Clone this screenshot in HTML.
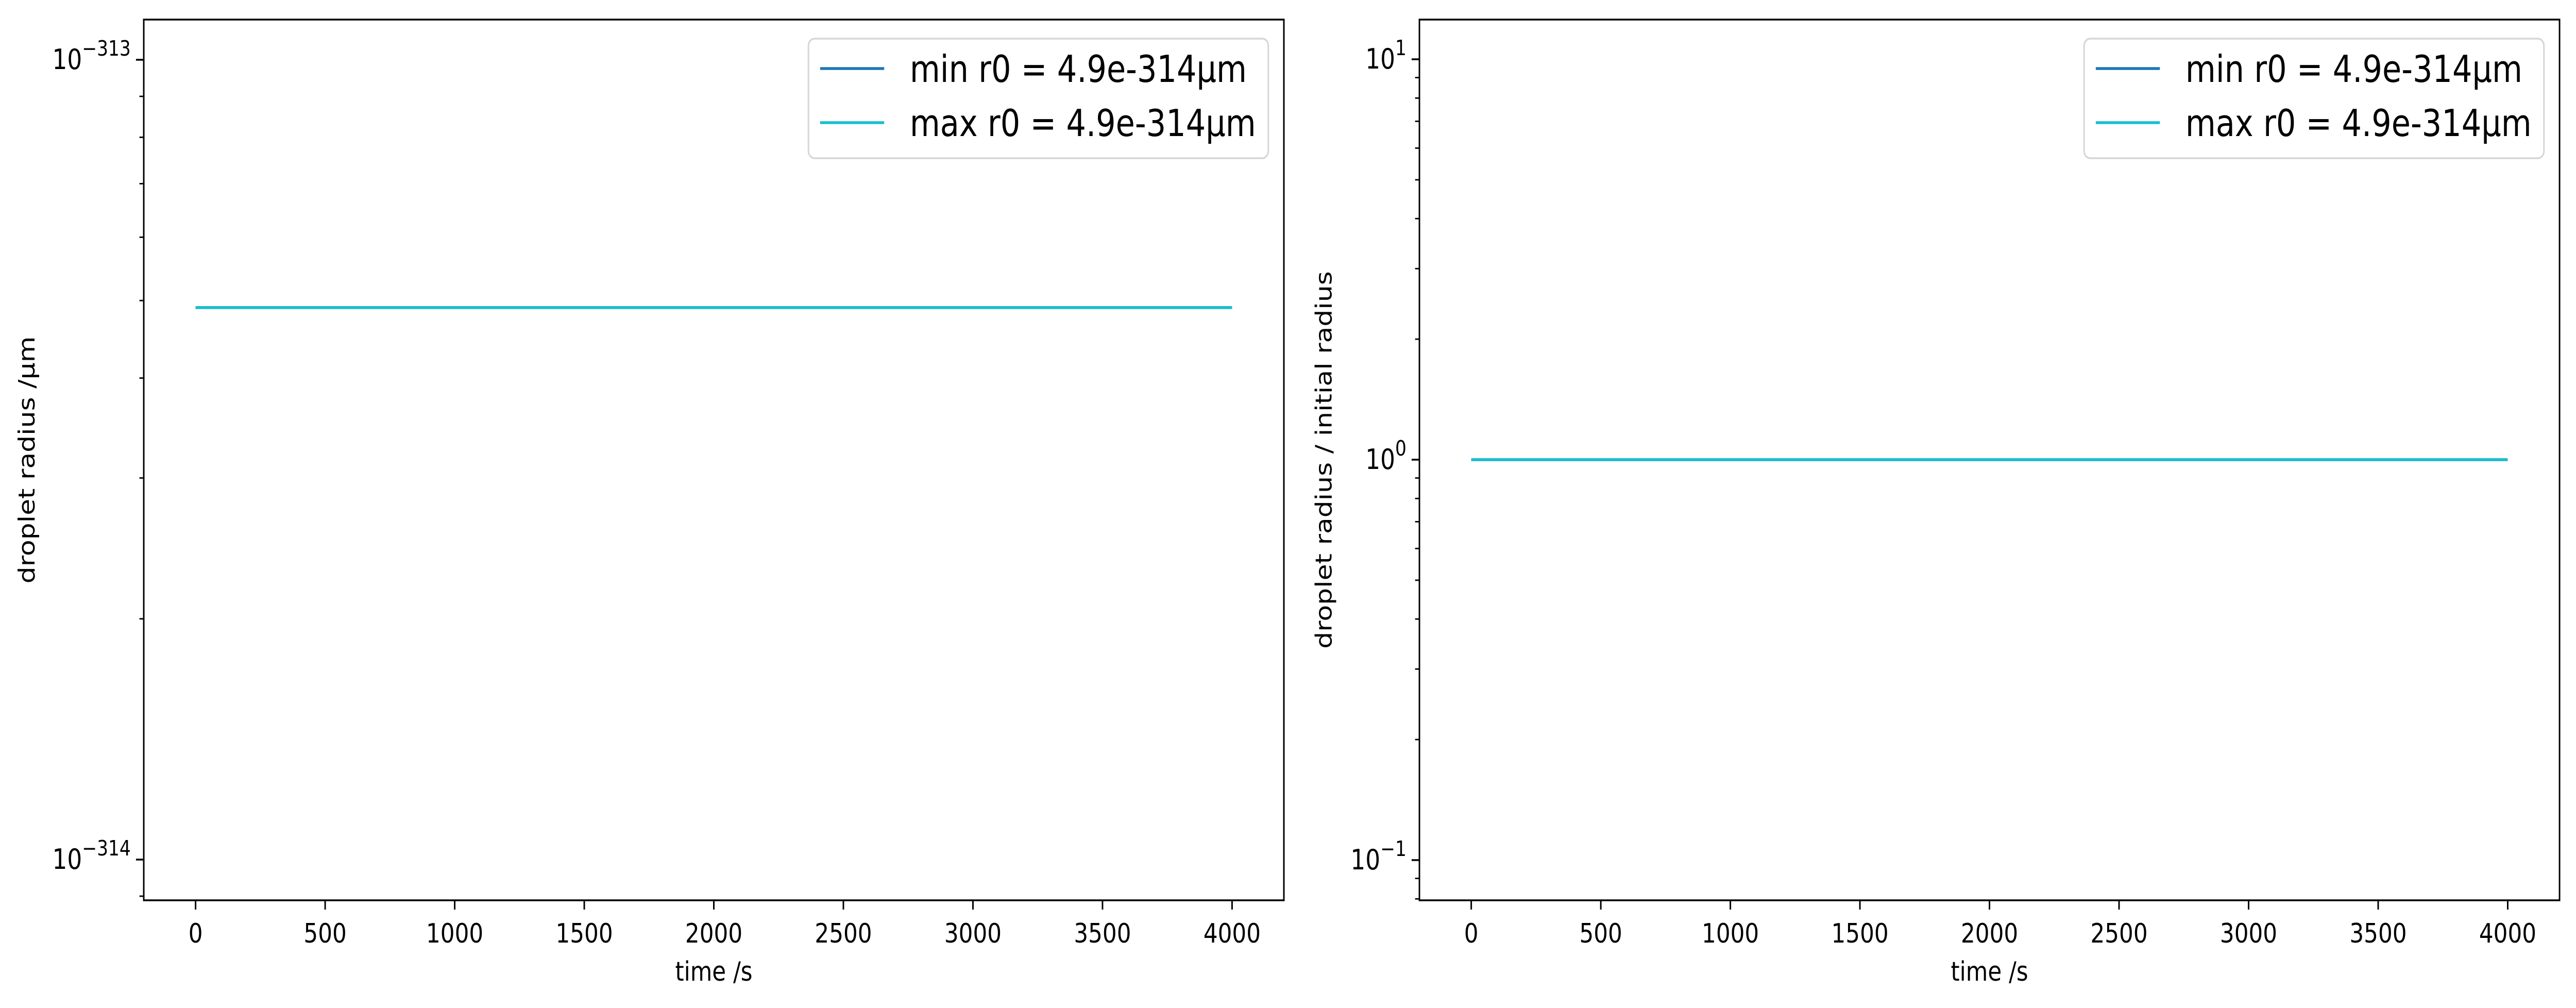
<!DOCTYPE html>
<html><head><meta charset="utf-8"><style>
html,body{margin:0;padding:0;background:#fff;width:100%;height:100%;overflow:hidden;}
svg{display:block;width:100vw;height:100vh;}
svg text{font-family:"DejaVu Sans","Liberation Sans",sans-serif;}
</style></head><body>
<svg id="fig" viewBox="0 0 5949 1956" preserveAspectRatio="none" xmlns="http://www.w3.org/2000/svg"></svg>
<script>
const seriesNames = ["min r0 = 4.9e-314\u00b5m", "max r0 = 4.9e-314\u00b5m"];
const seriesColors = ["#1f77b4", "#17becf"];
const timeValues = [0, 4000];
const radiusMin = [4.9e-314, 4.9e-314];
const radiusMax = [4.9e-314, 4.9e-314];
const ratioMin = [1, 1];
const ratioMax = [1, 1];
const xTicks = [0, 500, 1000, 1500, 2000, 2500, 3000, 3500, 4000];
const leftYTickExp = [-313, -314];
const rightYTickExp = [1, 0, -1];

const NS = "http://www.w3.org/2000/svg";
const svg = document.getElementById("fig");
function mk(tag, attrs, parent) {
  const e = document.createElementNS(NS, tag);
  for (const k in attrs) e.setAttribute(k, attrs[k]);
  (parent || svg).appendChild(e);
  return e;
}

function drawPanel(p) {
  const g = mk("g", {});
  
  
  const L = p.left, R = p.left + 2633, T = 38, B = 1747;
  const xs = v => L + (v - (-200)) / 4400 * (R - L);
  const ys = v => p.y0 - (Math.log10(v) - p.e0) * p.dec;
  const series = [p.s1, p.s2];
  series.forEach((vals, i) => {
    const pts = timeValues.map((t, j) => xs(t) + "," + ys(vals[j])).join(" ");
    const ln = mk("polyline", {points: pts, fill: "none", stroke: seriesColors[i], "stroke-width": 5.5}, g);
    
    
  });
  xTicks.forEach(t => {
    const x = xs(t);
    mk("line", {x1: x, x2: x, y1: B, y2: B + 18, stroke: "#000", "stroke-width": 3.5}, g);
    const tx = mk("text", {x: x, y: 1829, "font-size": 52, "text-anchor": "middle"}, g);
    tx.textContent = t;
    
    
  });
  const eLo = Math.floor(Math.log10(p.minV)), eHi = Math.ceil(Math.log10(p.maxV));
  for (let e = eLo; e <= eHi; e++) {
    for (let m = 1; m <= 9; m++) {
      const lv = e + Math.log10(m);
      const y = p.y0 - (lv - p.e0) * p.dec;
      if (y < T - 1 || y > B + 1) continue;
      const len = m === 1 ? 18 : 10;
      mk("line", {x1: L - len, x2: L, y1: y, y2: y, stroke: "#000", "stroke-width": m === 1 ? 3.5 : 2.8}, g);
    }
  }
  p.ticks.forEach(e => {
    const y = p.y0 - (e - p.e0) * p.dec;
    const tx = mk("text", {x: L - 30, y: y + 18, "font-size": 54, "text-anchor": "end"}, g);
    
    
    const a = mk("tspan", {}, tx); a.textContent = "10";
    const b = mk("tspan", {dy: -26, "font-size": 41}, tx);
    b.textContent = (e < 0 ? "\u2212" + (-e) : String(e));
  });
  const fr = mk("rect", {x: L, y: T, width: R - L, height: B - T, fill: "none", stroke: "#000", "stroke-width": 3.5}, g);
  
  
  const xl = mk("text", {x: (L + R) / 2, y: 1903, "font-size": 52, "text-anchor": "middle"}, g);
  xl.textContent = "time /s";
  
  
  const yl = mk("text", {x: 0, y: 0, "font-size": 52, "text-anchor": "middle", transform: "translate(" + p.ylx + "," + ((T + B) / 2) + ") rotate(-90)"}, g);
  yl.textContent = p.ylabel;
  
  
  const lg = mk("g", {}, g);
  
  
  const lx = R - 36 - 1062;
  mk("rect", {x: lx, y: 75, width: 1062, height: 232, rx: 14, fill: "#fff", "fill-opacity": 0.8, stroke: "#d6d6d6", "stroke-width": 3.5}, lg);
  seriesNames.forEach((n, i) => {
    const ey = 133 + i * 105;
    const ent = mk("g", {}, lg);
    
    
    mk("line", {x1: lx + 27, x2: lx + 175, y1: ey, y2: ey, stroke: seriesColors[i], "stroke-width": 5.5}, ent);
    const t = mk("text", {x: lx + 234, y: ey + 26, "font-size": 72}, ent);
    t.textContent = n;
  });
}

drawPanel({name: "left-panel-radius", left: 332, s1: radiusMin, s2: radiusMax,
  y0: 1668, e0: -314, dec: 1552, minV: 1e-314, maxV: 1e-313, ticks: leftYTickExp,
  ylabel: "droplet radius /\u00b5m", ylx: 80});
drawPanel({name: "right-panel-ratio", left: 3278, s1: ratioMin, s2: ratioMax,
  y0: 892, e0: 0, dec: 777, minV: 0.01, maxV: 100, ticks: rightYTickExp,
  ylabel: "droplet radius / initial radius", ylx: 3075});
</script>
</body></html>
